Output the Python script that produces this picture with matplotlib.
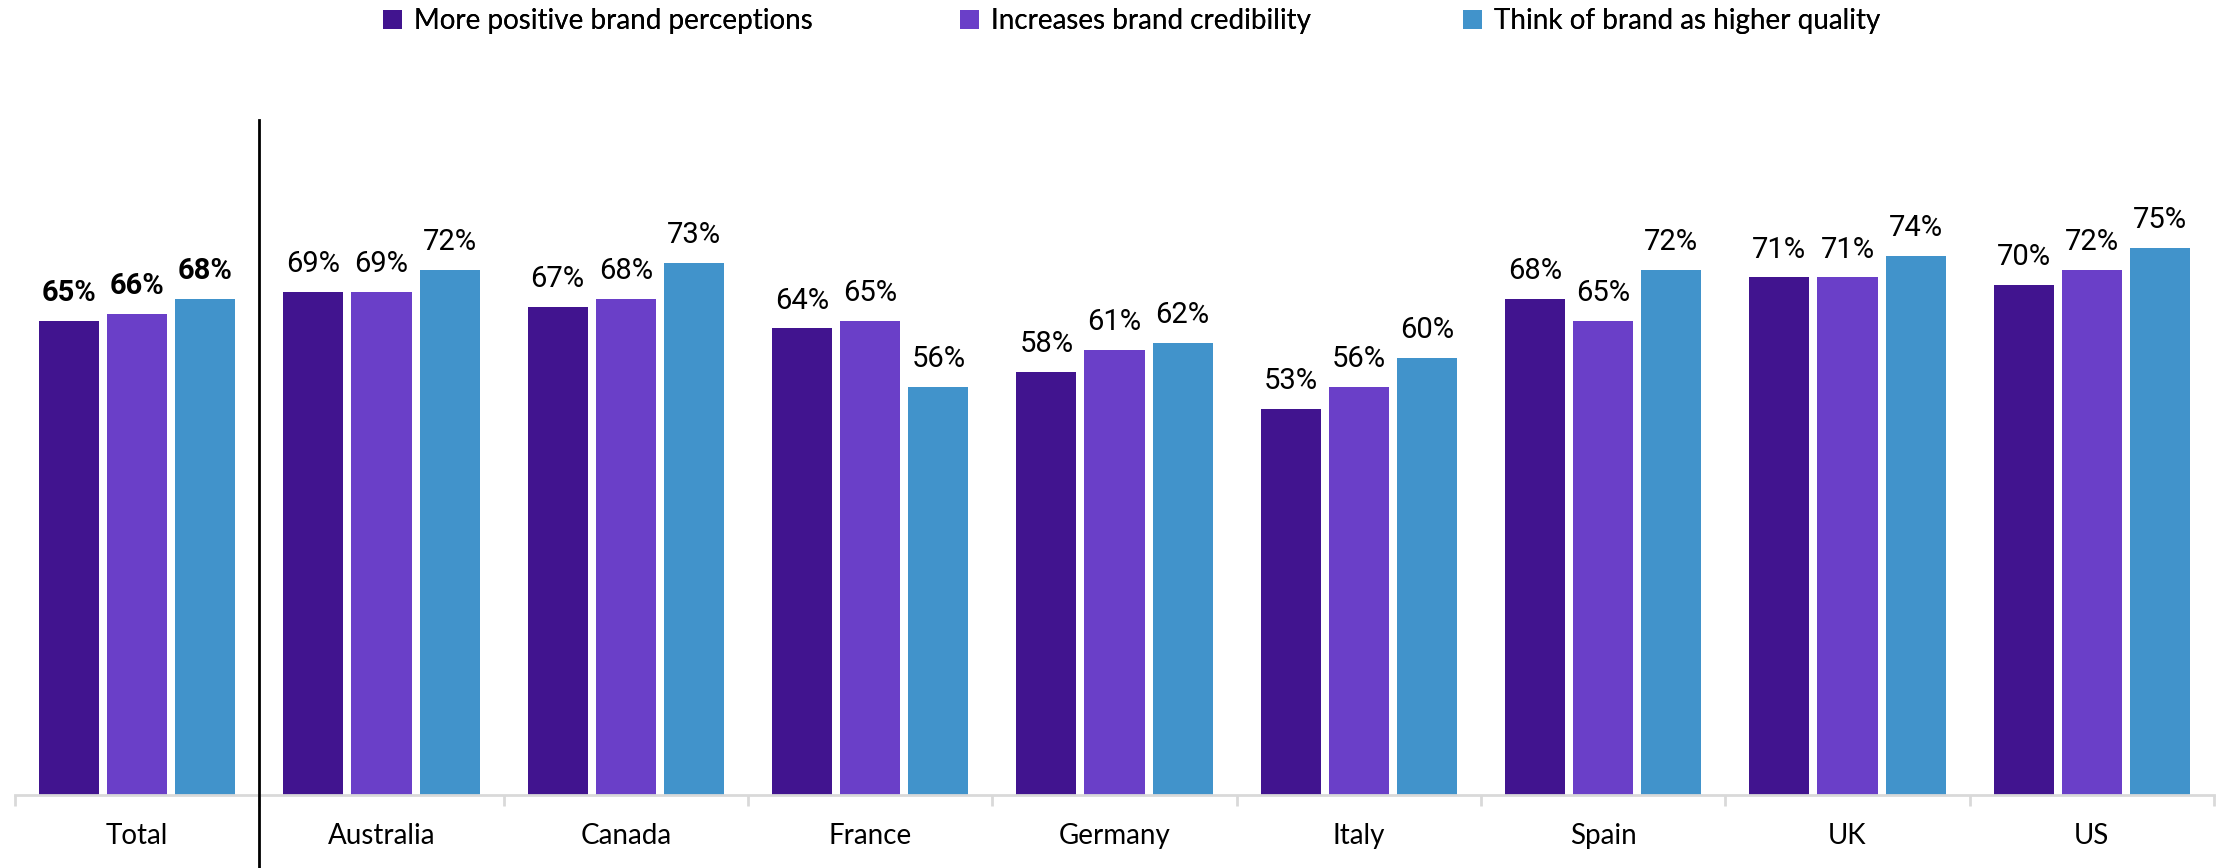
#!/usr/bin/env python3

import numpy as np
import matplotlib
matplotlib.use('Agg')
from matplotlib import pyplot as plt
from matplotlib.patches import Patch

categories = ['Total', 'Australia', 'Canada', 'France', 'Germany', 'Italy', 'Spain', 'UK', 'US']
series_names = ['More positive brand perceptions', 'Increases brand credibility',
                'Think of brand as higher quality']
positive = [65, 69, 67, 64, 58, 53, 68, 71, 70]
credibility = [66, 69, 68, 65, 61, 56, 65, 71, 72]
quality = [68, 72, 73, 56, 62, 60, 72, 74, 75]

COLORS = ['#41148f', '#6a3fc8', '#4193cb']

fig = plt.figure(figsize=(22.21, 8.68), dpi=100)
ax = fig.add_axes([15 / 2221, 73 / 868, 2199 / 2221, 729 / 868])

x = np.arange(len(categories))
width = 0.246
step = 0.279

for i, (vals, color) in enumerate(zip([positive, credibility, quality], COLORS)):
    pos = x + (i - 1) * step
    bars = ax.bar(pos, vals, width, color=color, zorder=2)
    for j, (b, v) in enumerate(zip(bars, vals)):
        ax.annotate(f'{v}%', (b.get_x() + b.get_width() / 2, v),
                    xytext=(0, 10), textcoords='offset points',
                    ha='center', va='bottom', fontsize=21, family='Roboto',
                    fontweight='bold' if j == 0 else 'normal')

ax.set_xlim(-0.5, len(categories) - 0.5)
ax.set_ylim(0, 100)

for s in ['top', 'right', 'left']:
    ax.spines[s].set_visible(False)
ax.spines['bottom'].set_color('#d9d9d9')
ax.spines['bottom'].set_linewidth(2)
ax.set_yticks([])

ax.set_xticks(x)
ax.set_xticklabels(categories, fontsize=20, family='Lato')
ax.tick_params(axis='x', which='major', length=0, pad=20)
ax.set_xticks(np.arange(-0.5, len(categories)), minor=True)
ax.tick_params(axis='x', which='minor', length=8, width=2, color='#d9d9d9')

# divider between Total and the countries
ax.axvline(0.5, ymin=-0.1, ymax=0.926, color='black', lw=2, clip_on=False, zorder=3)

# legend entries are not evenly spaced in the original, so one legend per entry
legend_x = [383, 960, 1463]
for name, color, lx in zip(series_names, COLORS, legend_x):
    leg = fig.legend([Patch(facecolor=color, edgecolor='none')], [name],
                     loc='center left', bbox_to_anchor=(lx / 2221, 1 - 21 / 868),
                     frameon=False, prop={'family': 'Lato', 'size': 20},
                     handlelength=0.7, handleheight=0.7, handletextpad=0.4,
                     borderpad=0, borderaxespad=0)
    fig.add_artist(leg)

fig.savefig('out.png', dpi=100)
